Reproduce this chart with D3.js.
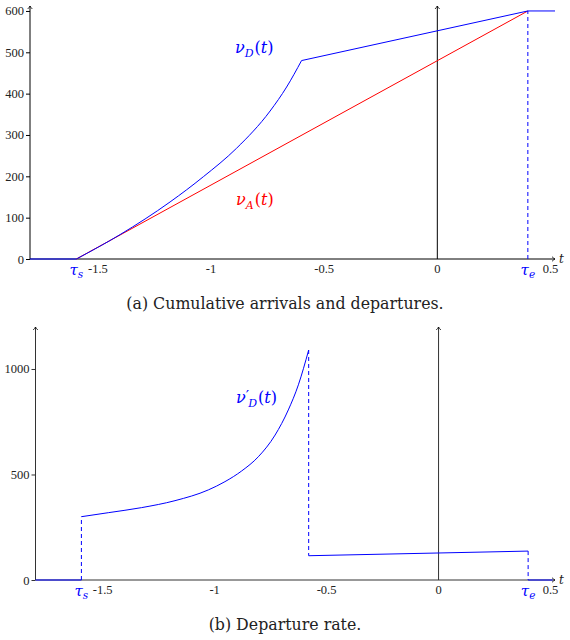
<!DOCTYPE html>
<html>
<head>
<meta charset="utf-8">
<script src="https://cdn.jsdelivr.net/npm/d3@7"></script>
<style>
  body { margin: 0; background: #fff; }
  svg text { font-family: "Liberation Serif", serif; }
  svg text.math, svg text.cap { font-family: "DejaVu Serif", serif; }
</style>
</head>
<body>
<svg id="chart" width="570" height="640"></svg>
<script>
// time window and the two special instants
const tDomain = [-1.8, 0.52];
const tauS = -1.595;
const tauE = 0.40;

// (a) cumulative arrivals: straight line tauS -> tauE
const arrivalT = [tauS, tauE];
const arrivalV = [0, 600];

// (a) cumulative departures, curved part
const departCurveT = [tauS, -1.402, -1.181, -1.034, -0.887, -0.739, -0.666, -0.60];
const departCurveV = [0, 59, 138, 199, 268, 358, 416, 480];
// then straight to tauE and flat afterwards
const departLineT = [-0.60, tauE, 0.52];
const departLineV = [480, 600, 600];

// (b) departure rate
const rateCurveT = [tauS, -1.475, -1.326, -1.177, -1.028, -0.954, -0.879, -0.805, -0.730, -0.671, -0.626, -0.580];
const rateCurveV = [300, 319, 343, 376, 427, 466, 517, 584, 687, 806, 925, 1090];
const rateJumpT = -0.580;
const rateFlatT = [-0.580, tauE];
const rateFlatV = [115, 137];

const ticksA_y = [0, 100, 200, 300, 400, 500, 600];
const ticksB_y = [0, 500, 1000];
const ticksX = [-1.5, -1, -0.5, 0, 0.5];

const svg = d3.select("#chart");
const blue = "#0000ff", red = "#ff0000";

svg.append("defs").append("marker")
    .attr("id", "arr")
    .attr("viewBox", "-4 -3 5 6")
    .attr("refX", 0).attr("refY", 0)
    .attr("markerWidth", 5).attr("markerHeight", 6)
    .attr("markerUnits", "userSpaceOnUse")
    .attr("orient", "auto")
    .append("path")
    .attr("d", "M-3,-2.3 Q-1.2,-0.6 0,0 Q-1.2,0.6 -3,2.3")
    .attr("fill", "none")
    .attr("stroke", "#000")
    .attr("stroke-width", 0.8);

function zip(a, b) { return a.map((d, i) => [d, b[i]]); }

function panel(opts) {
  const x = d3.scaleLinear().domain(tDomain).range(opts.xr);
  const y = d3.scaleLinear().domain(opts.yd).range(opts.yr);
  const g = svg.append("g");
  const axisCol = opts.axisCol;

  // y axis with ticks outside
  const ya = g.append("g")
      .attr("transform", `translate(${x(tDomain[0])},0)`)
      .call(d3.axisLeft(y).tickValues(opts.yticks).tickSize(4).tickPadding(2).tickFormat(d3.format("d")));
  ya.select(".domain").remove();
  ya.selectAll(".tick line").attr("stroke", axisCol);
  ya.selectAll("text").attr("font-size", 12.5).attr("fill", "#222");

  // x tick labels (no tick marks)
  g.selectAll(".xl").data(ticksX).enter().append("text")
      .attr("x", d => x(d)).attr("y", y(0) + 13.5)
      .attr("text-anchor", "middle")
      .attr("font-size", 12.5).attr("fill", "#222")
      .text(d => d3.format("")(d).replace("−", "-"));

  // axis lines with arrows
  const ax = g.append("g").attr("stroke", axisCol).attr("stroke-width", 1).attr("fill", "none");
  ax.append("line").attr("x1", x(tDomain[0])).attr("x2", x(tDomain[1]))
      .attr("y1", y(0)).attr("y2", y(0)).attr("marker-end", "url(#arr)");
  ax.append("line").attr("x1", x(tDomain[0])).attr("x2", x(tDomain[0]))
      .attr("y1", y(0)).attr("y2", y(opts.yd[1])).attr("marker-end", "url(#arr)");
  ax.append("line").attr("x1", x(0)).attr("x2", x(0))
      .attr("y1", y(0)).attr("y2", y(opts.yd[1])).attr("marker-end", "url(#arr)");

  g.append("text").attr("class", "math").attr("x", x(tDomain[1]) + 4).attr("y", y(0) + 3.5)
      .attr("font-size", 12).attr("font-style", "italic").attr("fill", "#222").text("t");

  // tau labels
  [[tauS, "s"], [tauE, "e"]].forEach(([t, s]) => {
    const tx = g.append("text").attr("class", "math").attr("x", x(t)).attr("y", y(0) + 15.5)
        .attr("text-anchor", "middle").attr("fill", blue).attr("font-size", 15)
        .attr("font-style", "italic");
    tx.append("tspan").text("τ");
    tx.append("tspan").attr("font-size", 10.5).attr("dy", 3).text(s);
  });

  return { g, x, y };
}

function mathLabel(g, px, py, color, sub, prime) {
  const t = g.append("text").attr("class", "math").attr("x", px).attr("y", py)
      .attr("fill", color).attr("font-size", 16);
  t.append("tspan").attr("font-style", "italic").text("ν");
  if (prime) {
    t.append("tspan").attr("font-size", 15).attr("dy", -2).attr("dx", 0).text("′");
    t.append("tspan").attr("font-size", 11).attr("font-style", "italic").attr("dy", 6).attr("dx", -1).text(sub);
  } else {
    t.append("tspan").attr("font-size", 11).attr("font-style", "italic").attr("dy", 4).text(sub);
  }
  t.append("tspan").attr("dy", -4).attr("dx", 1).text("(");
  t.append("tspan").attr("font-style", "italic").text("t");
  t.append("tspan").text(")");
}

// ---------- (a) ----------
const A = panel({ xr: [30, 555], yd: [0, 612], yr: [259, 6], yticks: ticksA_y, axisCol: "#000" });
const lineA = d3.line().x(d => A.x(d[0])).y(d => A.y(d[1]));
const curveA = d3.line().x(d => A.x(d[0])).y(d => A.y(d[1])).curve(d3.curveMonotoneX);

A.g.append("path").attr("d", lineA([[tDomain[0], 0], [tauS, 0]]))
    .attr("stroke", blue).attr("fill", "none");
A.g.append("path").attr("d", lineA(zip(arrivalT, arrivalV)))
    .attr("stroke", red).attr("fill", "none");
A.g.append("path").attr("d", curveA(zip(departCurveT, departCurveV)))
    .attr("stroke", blue).attr("fill", "none");
A.g.append("path").attr("d", lineA(zip(departLineT, departLineV)))
    .attr("stroke", blue).attr("fill", "none");
A.g.append("path").attr("d", lineA([[tauE, 0], [tauE, 600]]))
    .attr("stroke", blue).attr("fill", "none").attr("stroke-dasharray", "4,3");

mathLabel(A.g, 235, 53, blue, "D", false);
mathLabel(A.g, 236, 205, red, "A", false);

svg.append("text").attr("class", "cap").attr("x", 285).attr("y", 309).attr("text-anchor", "middle")
    .attr("font-size", 15.8).attr("fill", "#222").text("(a) Cumulative arrivals and departures.");

// ---------- (b) ----------
const B = panel({ xr: [35.5, 555], yd: [0, 1199], yr: [580, 327], yticks: ticksB_y, axisCol: "#333" });
const lineB = d3.line().x(d => B.x(d[0])).y(d => B.y(d[1]));
const curveB = d3.line().x(d => B.x(d[0])).y(d => B.y(d[1])).curve(d3.curveMonotoneX);

B.g.append("path").attr("d", lineB([[tDomain[0], 0], [tauS, 0]]))
    .attr("stroke", blue).attr("fill", "none");
B.g.append("path").attr("d", lineB([[tauE, 0], [tDomain[1] - 0.01, 0]]))
    .attr("stroke", blue).attr("fill", "none");
const dashB = [
  [[tauS, 0], [tauS, rateCurveV[0]]],
  [[rateJumpT, rateCurveV[rateCurveV.length - 1]], [rateJumpT, rateFlatV[0]]],
  [[tauE, rateFlatV[1]], [tauE, 0]]
];
dashB.forEach(seg => B.g.append("path").attr("d", lineB(seg))
    .attr("stroke", blue).attr("fill", "none").attr("stroke-dasharray", "4,3"));
B.g.append("path").attr("d", curveB(zip(rateCurveT, rateCurveV)))
    .attr("stroke", blue).attr("fill", "none");
B.g.append("path").attr("d", lineB(zip(rateFlatT, rateFlatV)))
    .attr("stroke", blue).attr("fill", "none");

mathLabel(B.g, 236, 403, blue, "D", true);

svg.append("text").attr("class", "cap").attr("x", 285).attr("y", 630).attr("text-anchor", "middle")
    .attr("font-size", 15.8).attr("fill", "#222").text("(b) Departure rate.");
</script>
</body>
</html>
